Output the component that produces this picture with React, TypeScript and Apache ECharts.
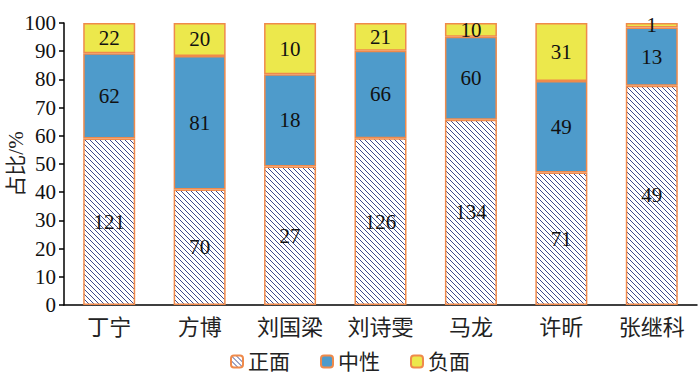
import React, { useEffect, useRef } from "react";
import * as echarts from "echarts";

const categories = ["丁宁", "方博", "刘国梁", "刘诗雯", "马龙", "许昕", "张继科"];
const positive = [121, 70, 27, 126, 134, 71, 49];
const neutral = [62, 81, 18, 66, 60, 49, 13];
const negative = [22, 20, 10, 21, 10, 31, 1];
const seriesNames = ["正面", "中性", "负面"];
const yAxisTitle = "占比/%";
const yTicks = { min: 0, max: 100, interval: 10 };

function makeHatch(): HTMLCanvasElement {
  const c = document.createElement("canvas");
  const n = 5;
  c.width = n;
  c.height = n;
  const ctx = c.getContext("2d")!;
  ctx.fillStyle = "#ffffff";
  ctx.fillRect(0, 0, n, n);
  ctx.fillStyle = "#3f4a8c";
  for (let i = 0; i < n; i++) {
    ctx.fillRect(i, i, 1, 1);
  }
  return c;
}

export default function App() {
  const ref = useRef<HTMLDivElement>(null);
  useEffect(() => {
    if (!ref.current) return;
    const chart = echarts.init(ref.current, undefined, { renderer: "svg" });
    const totals = categories.map((_, i) => positive[i] + neutral[i] + negative[i]);
    const raw = [positive, neutral, negative];
    const pct = raw.map((arr) => arr.map((v, i) => (v / totals[i]) * 100));
    const border = "#ef8a4b";
    const fills: any[] = [
      { image: makeHatch(), repeat: "repeat" },
      "#4e9bcb",
      "#ece84c",
    ];
    const serif = "'Liberation Serif', 'Times New Roman', serif";
    const cjk = "'Liberation Serif', 'Noto Sans CJK SC', serif";
    chart.setOption({
      animation: false,
      grid: { left: 64, right: 3, top: 23, bottom: 83, outerBoundsMode: "none", containLabel: false },
      graphic: [
        {
          type: "text",
          x: 16,
          y: 164,
          rotation: Math.PI / 2,
          style: {
            text: yAxisTitle,
            fontFamily: cjk,
            fontSize: 21,
            fill: "#222",
            align: "center",
            verticalAlign: "middle",
          },
        },
      ],
      legend: {
        bottom: 11,
        left: "center",
        itemWidth: 12,
        itemHeight: 12,
        itemGap: 30,
        textStyle: { fontFamily: cjk, fontSize: 21, color: "#222" },
        data: seriesNames,
      },
      xAxis: {
        type: "category",
        data: categories,
        axisLine: { lineStyle: { color: "#000", width: 1.5 } },
        axisTick: { show: false },
        axisLabel: { fontFamily: cjk, fontSize: 22, color: "#222", margin: 11 },
      },
      yAxis: {
        type: "value",
        min: yTicks.min,
        max: yTicks.max,
        interval: yTicks.interval,
        axisLine: { show: true, lineStyle: { color: "#000", width: 1.5 } },
        axisTick: { show: true, length: 5, lineStyle: { color: "#000", width: 1.5 } },
        splitLine: { show: false },
        axisLabel: { fontFamily: serif, fontSize: 21, color: "#111", margin: 8 },
      },
      series: seriesNames.map((name, k) => ({
        name,
        type: "bar",
        stack: "total",
        barWidth: 52,
        data: pct[k],
        itemStyle: { color: fills[k], borderColor: border, borderWidth: 1.5 },
        label: {
          show: true,
          position: "inside",
          fontFamily: serif,
          fontSize: 21,
          color: "#111",
          formatter: (p: any) => String(raw[k][p.dataIndex]),
        },
      })),
    });
    return () => chart.dispose();
  }, []);
  return (
    <div
      ref={ref}
      style={{ position: "absolute", left: 0, top: 0, width: 700, height: 388, background: "#fff" }}
    />
  );
}
